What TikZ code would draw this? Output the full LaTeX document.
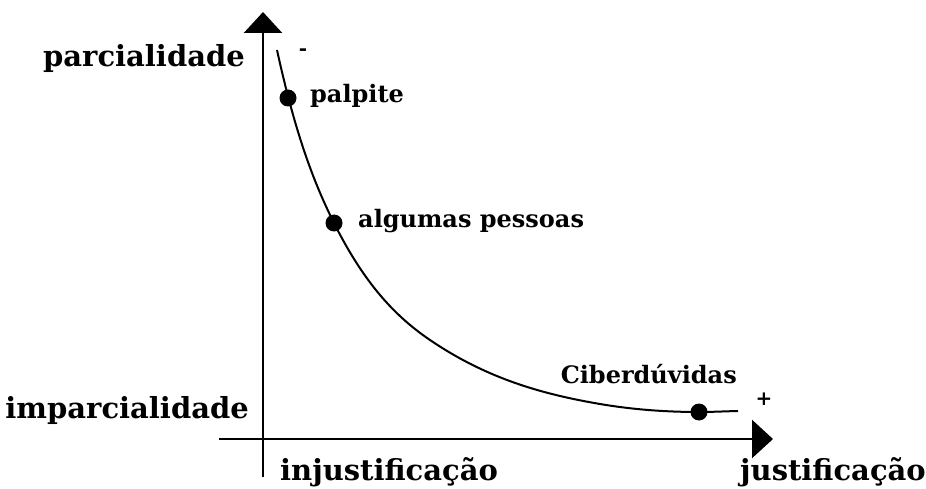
\documentclass[tikz,border=0pt]{standalone}
\usepackage{fontspec}
\setmainfont{DejaVu Serif}
\usetikzlibrary{arrows.meta}
\begin{document}
\begin{tikzpicture}[x=1pt,y=-1pt,
  axis/.style={line width=2.6pt,-{Triangle[length=21pt,width=38pt]}},
  curveline/.style={line width=2pt},
  dot/.style={circle,fill=black,inner sep=0pt,minimum size=17pt},
  biglabel/.style={font=\fontsize{29}{32}\selectfont\bfseries,inner sep=0pt},
  smalllabel/.style={font=\fontsize{24}{27}\selectfont\bfseries,inner sep=0pt},
  signlabel/.style={font=\fontsize{20}{22}\selectfont\bfseries,inner sep=0pt}]
\useasboundingbox (0,0) rectangle (926,489);
\coordinate (ytop) at (263,12);
\coordinate (ybot) at (263,477);
\coordinate (xleft) at (219,439);
\coordinate (xright) at (773,439);
\draw[axis] (ybot) -- (ytop);
\draw[axis] (xleft) -- (xright);
\coordinate (c0) at (277,50);
\coordinate (c1) at (334,223);
\coordinate (c2) at (430,340);
\coordinate (c3) at (600,404);
\coordinate (c4) at (699,412);
\coordinate (c5) at (738,411);
\draw[curveline] (c0) .. controls (296,137) and (315,185) .. (c1)
  .. controls (366,287) and (398,318.2) .. (c2)
  .. controls (487,378.8) and (543,394.3) .. (c3)
  .. controls (633,409.6) and (666,412) .. (c4)
  .. controls (712,412) and (725,411.3) .. (c5);
\node[dot] (d1) at (288,98) {};
\node[dot] (d2) at (c1) {};
\node[dot] (d3) at (c4) {};
\node[biglabel,anchor=base east] (parc) at (245,67) {parcialidade};
\node[biglabel,anchor=base east] (impa) at (249,418) {imparcialidade};
\node[biglabel,anchor=base west] (inj) at (280,480) {injustificação};
\node[biglabel,anchor=base east] (jus) at (926,480) {justificação};
\node[smalllabel,anchor=base west] (palp) at (310,103) {palpite};
\node[smalllabel,anchor=base west] (algu) at (358,227) {algumas pessoas};
\node[smalllabel,anchor=base east] (cibe) at (737,383) {Ciberdúvidas};
\node[signlabel] (minus) at (303,52) {-};
\node[signlabel] (plus) at (764,399) {+};
\end{tikzpicture}
\end{document}
